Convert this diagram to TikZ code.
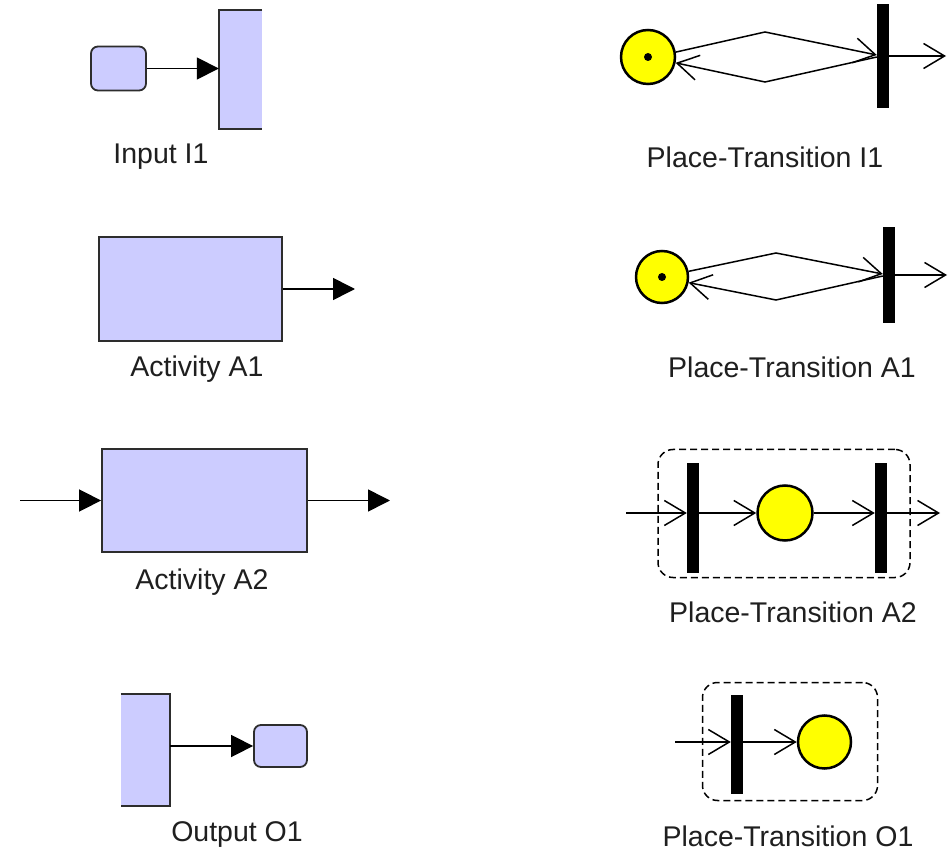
\documentclass[tikz,border=0pt]{standalone}
\usepackage{fontspec}
\setmainfont{Liberation Sans}
\usetikzlibrary{arrows.meta}
\definecolor{lav}{RGB}{204,204,255}
\definecolor{edge}{RGB}{45,45,45}
\definecolor{tok}{RGB}{255,255,0}
\begin{document}
\begin{tikzpicture}[x=1pt,y=-1pt,
  lbl/.style={font=\fontsize{28.5}{34}\selectfont, text=black!88, inner sep=0pt},
  block/.style={draw=edge, fill=lav, line width=1.8pt, inner sep=0pt},
  smallbox/.style={block, rounded corners=7pt, minimum width=55pt, minimum height=44pt},
  sidefill/.style={fill=lav, inner sep=0pt},
  solid arrow/.style={line width=1.6pt, -{Triangle[length=22pt,width=22pt]}},
  place/.style={circle, draw=black, fill=tok, line width=2.5pt, inner sep=0pt},
  trans/.style={fill=black, inner sep=0pt, minimum width=12pt},
  arc/.style={line width=1.5pt, -{Straight Barb[length=21pt,width=25pt,line width=1.5pt]}},
  group/.style={draw=black, dash pattern=on 7pt off 4pt, line width=1.5pt, rounded corners=15pt, inner sep=0pt}
]
\useasboundingbox[fill=white] (0,0) rectangle (948,858);

% ---------- Input I1 ----------
\node[smallbox] (s1) at (118.5,68.5) {};
\node[sidefill, minimum width=43pt, minimum height=119pt] (t1) at (240.5,69.5) {};
\draw[edge, line width=1.8pt] (t1.north east) -- (t1.north west) -- (t1.south west) -- (t1.south east);
\draw[solid arrow] (s1.east) -- (s1.east -| t1.west);
\node[lbl] (l1) at (161,157) {Input I1};

% ---------- Activity A1 ----------
\node[block, minimum width=183pt, minimum height=104pt] (a1) at (190.5,289) {};
\coordinate (a1out) at (355,289);
\draw[solid arrow] (a1.east) -- (a1out);
\node[lbl] (l2) at (197,369) {Activity A1};

% ---------- Activity A2 ----------
\node[block, minimum width=205pt, minimum height=103pt] (a2) at (204.5,500.5) {};
\coordinate (a2in) at (20,500.5);
\coordinate (a2out) at (390,500.5);
\draw[solid arrow] (a2in) -- (a2.west);
\draw[solid arrow] (a2.east) -- (a2out);
\node[lbl] (l3) at (202,582) {Activity A2};

% ---------- Output O1 ----------
\node[sidefill, minimum width=49pt, minimum height=111pt] (t4) at (145.5,750) {};
\draw[edge, line width=1.8pt] (t4.north west) -- (t4.north east) -- (t4.south east) -- (t4.south west);
\node[smallbox, minimum width=53pt, minimum height=42pt] (s4) at (280.5,746) {};
\draw[solid arrow] (s4.west -| t4.east) -- (s4.west);
\node[lbl] (l4) at (237,835) {Output O1};

% ---------- Place-Transition I1 ----------
\node[place, minimum size=54pt] (p1) at (648,57) {};
\fill (p1.center) circle (4pt);
\node[trans, minimum height=104pt] (b1) at (883,56) {};
\coordinate (m1u) at (765,32);
\coordinate (m1d) at (765,82);
\coordinate (o1) at (946,56);
\draw[arc] (p1.10) -- (m1u) -- ([yshift=1pt]b1.west);
\draw[arc] ([yshift=-1pt]b1.west) -- (m1d) -- (p1.-12);
\draw[arc] (b1.east) -- (o1);
\node[lbl] (l5) at (765,157) {Place-Transition I1};

% ---------- Place-Transition A1 ----------
\node[place, minimum size=52pt] (p2) at (662,277) {};
\fill (p2.center) circle (4pt);
\node[trans, minimum height=96pt] (b2) at (889,275) {};
\coordinate (m2u) at (776,253);
\coordinate (m2d) at (776,300);
\coordinate (o2) at (947,275);
\draw[arc] (p2.12) -- (m2u) -- ([yshift=1pt]b2.west);
\draw[arc] ([yshift=-1pt]b2.west) -- (m2d) -- (p2.-12);
\draw[arc] (b2.east) -- (o2);
\node[lbl] (l6) at (792,367) {Place-Transition A1};

% ---------- Place-Transition A2 ----------
\node[group, minimum width=252pt, minimum height=128pt] (g3) at (784,513.5) {};
\node[trans, minimum height=110pt] (b3l) at (693,518) {};
\node[trans, minimum height=110pt] (b3r) at (881,518) {};
\node[place, minimum size=55pt] (p3) at (785,513) {};
\coordinate (i3) at (626,513);
\coordinate (o3) at (940,513);
\draw[arc] (i3) -- (b3l.west |- p3.center);
\draw[arc] (b3l.east |- p3.center) -- (p3.west);
\draw[arc] (p3.east) -- (b3r.west |- p3.center);
\draw[arc] (b3r.east |- p3.center) -- (o3);
\node[lbl] (l7) at (793,612) {Place-Transition A2};

% ---------- Place-Transition O1 ----------
\node[group, minimum width=175pt, minimum height=118pt] (g4) at (790,741.5) {};
\node[trans, minimum height=99pt] (b4) at (737,744.5) {};
\node[place, minimum size=53pt] (p4) at (824.5,742) {};
\coordinate (i4) at (675,742);
\draw[arc] (i4) -- (b4.west |- p4.center);
\draw[arc] (b4.east |- p4.center) -- (p4.west);
\node[lbl] (l8) at (788,836) {Place-Transition O1};
\end{tikzpicture}
\end{document}
